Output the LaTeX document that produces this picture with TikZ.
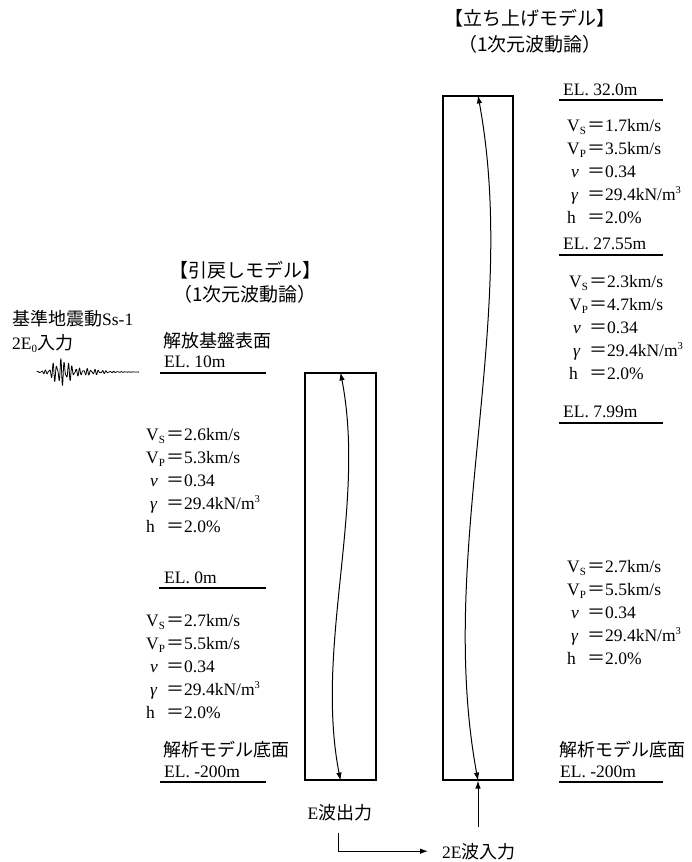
\documentclass[tikz,border=0pt]{standalone}
\usepackage{fontspec}
\setmainfont{Liberation Serif}
\newfontfamily\jpfont{Noto Sans CJK JP}
\usetikzlibrary{arrows.meta}
\newcommand\jp[1]{{\jpfont\fontsize{18}{21}\selectfont #1}}
\newcommand\lsub[1]{\raisebox{-0.4ex}{\fontsize{11}{11}\selectfont #1}}
\newcommand\lsup[1]{\raisebox{0.8ex}{\fontsize{10.5}{10.5}\selectfont #1}}
\newcommand\eqj{\jp{＝}}
\newcommand\pline[2]{\makebox[20pt][l]{#1}\eqj#2}
\newcommand\nuu{\hspace{4pt}{\itshape ν}}
\newcommand\gam{\hspace{4pt}{\itshape γ}}
\tikzset{
  txt/.style={font=\fontsize{17.5}{20}\selectfont, inner sep=0pt, anchor=base west},
  ttl/.style={font=\jpfont\fontsize{19}{22}\selectfont, inner sep=0pt, anchor=base},
  colbox/.style={draw, line width=1.2pt, inner sep=0pt},
  uline/.style={line width=1.2pt},
  curv/.style={line width=1pt, {Latex[length=8pt,width=5.5pt]}-{Latex[length=8pt,width=5.5pt]}},
  arr/.style={line width=1pt, -{Latex[length=8pt,width=5.5pt]}},
  wave/.style={line width=0.8pt, line join=round}
}
\begin{document}
\begin{tikzpicture}[x=1pt,y=-1pt]
\useasboundingbox (0,0) rectangle (691,862);
\fill[white] (0,0) rectangle (691,862);

% ---------- titles ----------
\node[ttl] (ttlL1) at (245,277) {【引戻しモデル】};
\node[ttl] (ttlL2) at (245,301) {（1次元波動論）};
\node[ttl] (ttlR1) at (530,25) {【立ち上げモデル】};
\node[ttl] (ttlR2) at (530,51) {（1次元波動論）};

% ---------- input motion ----------
\node[txt] (ss1) at (12,325) {\jp{基準地震動}Ss-1};
\node[txt] (ss2) at (12,349) {2E\lsub{0}\jp{入力}};
\draw[wave] plot[domain=0:102, samples=360]
  ({37+\x}, {372 - (11/(1+((\x-24)/9)^4) + 3.5/(1+((\x-40)/26)^4))*(0.65*sin(\x*95)+0.35*sin(\x*137+40))});

% ---------- left model ----------
\node[txt] (lsurf) at (163,347) {\jp{解放基盤表面}};
\node[txt] (lel10) at (164,367) {EL. 10m};
\draw[uline] (160,373) -- (266,373);

\node[txt] (la1) at (146,440) {\pline{V\lsub{S}}{2.6km/s}};
\node[txt] (la2) at (146,463) {\pline{V\lsub{P}}{5.3km/s}};
\node[txt] (la3) at (146,486) {\pline{\nuu}{0.34}};
\node[txt] (la4) at (146,509) {\pline{\gam}{29.4kN/m\lsup{3}}};
\node[txt] (la5) at (146,532) {\pline{h}{2.0\%}};

\node[txt] (lel0) at (164,583) {EL. 0m};
\draw[uline] (159,588) -- (266,588);

\node[txt] (lb1) at (146,626) {\pline{V\lsub{S}}{2.7km/s}};
\node[txt] (lb2) at (146,649) {\pline{V\lsub{P}}{5.5km/s}};
\node[txt] (lb3) at (146,672) {\pline{\nuu}{0.34}};
\node[txt] (lb4) at (146,695) {\pline{\gam}{29.4kN/m\lsup{3}}};
\node[txt] (lb5) at (146,718) {\pline{h}{2.0\%}};

\node[txt] (lbot) at (163,756) {\jp{解析モデル底面}};
\node[txt] (lelm) at (164,777) {EL. -200m};
\draw[uline] (160,782) -- (266,782);

\node[colbox, minimum width=71pt, minimum height=407pt] (lbox) at (340.5,576.5) {};
\draw[curv] (lbox.north) .. controls +(26,134) and +(-26,-134) .. (lbox.south);

% ---------- right model ----------
\node[txt] (rel32) at (563,95) {EL. 32.0m};
\draw[uline] (559,100) -- (663,100);
\node[txt] (ra1) at (567,131) {\pline{V\lsub{S}}{1.7km/s}};
\node[txt] (ra2) at (567,154) {\pline{V\lsub{P}}{3.5km/s}};
\node[txt] (ra3) at (567,177) {\pline{\nuu}{0.34}};
\node[txt] (ra4) at (567,200) {\pline{\gam}{29.4kN/m\lsup{3}}};
\node[txt] (ra5) at (567,223) {\pline{h}{2.0\%}};

\node[txt] (rel27) at (563,249) {EL. 27.55m};
\draw[uline] (559,255) -- (663,255);
\node[txt] (rb1) at (569,287) {\pline{V\lsub{S}}{2.3km/s}};
\node[txt] (rb2) at (569,310) {\pline{V\lsub{P}}{4.7km/s}};
\node[txt] (rb3) at (569,333) {\pline{\nuu}{0.34}};
\node[txt] (rb4) at (569,356) {\pline{\gam}{29.4kN/m\lsup{3}}};
\node[txt] (rb5) at (569,379) {\pline{h}{2.0\%}};

\node[txt] (rel8) at (563,417) {EL. 7.99m};
\draw[uline] (559,423) -- (663,423);

\node[txt] (rc1) at (567,572) {\pline{V\lsub{S}}{2.7km/s}};
\node[txt] (rc2) at (567,595) {\pline{V\lsub{P}}{5.5km/s}};
\node[txt] (rc3) at (567,618) {\pline{\nuu}{0.34}};
\node[txt] (rc4) at (567,641) {\pline{\gam}{29.4kN/m\lsup{3}}};
\node[txt] (rc5) at (567,664) {\pline{h}{2.0\%}};

\node[txt] (rbot) at (559,756) {\jp{解析モデル底面}};
\node[txt] (relm) at (560,777) {EL. -200m};
\draw[uline] (559,782) -- (663,782);

\node[colbox, minimum width=70pt, minimum height=684pt] (rbox) at (478,438) {};
\draw[curv] (rbox.north) .. controls +(42,228) and +(-42,-228) .. (rbox.south);

% ---------- wave transfer ----------
\node[txt, anchor=base] (eout) at (340,819) {E\jp{波出力}};
\node[txt] (ein) at (442,858) {2E\jp{波入力}};
\coordinate (lstart) at (338,833);
\coordinate (rin) at (478,827);
\draw[arr] (lstart) |- ([xshift=-14pt]ein.west);
\draw[arr] (rin) -- (rbox.south);
\end{tikzpicture}
\end{document}
